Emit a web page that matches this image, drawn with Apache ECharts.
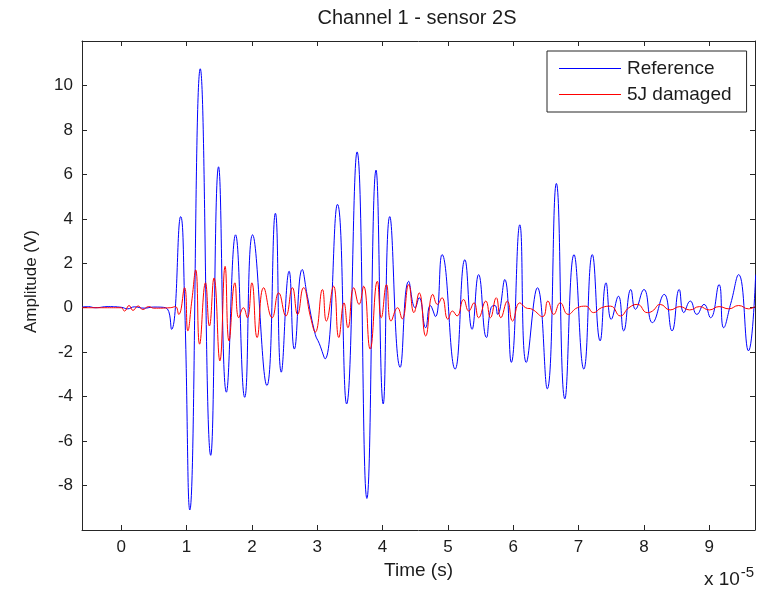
<!DOCTYPE html>
<html>
<head>
<meta charset="utf-8">
<script src="https://cdn.jsdelivr.net/npm/echarts@6/dist/echarts.min.js"></script>
<style>
  html, body { margin: 0; padding: 0; background: #fff; }
  #chart { width: 760px; height: 590px; }
</style>
</head>
<body>
<div id="chart"></div>
<script>
// Time axis in units of 1e-5 s, amplitude in volts
const timeTicks = [0, 1, 2, 3, 4, 5, 6, 7, 8, 9];

// Reference signal (peaks and troughs of the wave)
const refTime = [-0.6, -0.5, -0.4, -0.2, 0.0, 0.1, 0.2, 0.35, 0.5, 0.68,
  0.77, 0.91, 0.97, 1.05, 1.21, 1.37, 1.49, 1.61, 1.75, 1.89,
  2.01, 2.23, 2.36, 2.45, 2.57, 2.65, 2.77, 2.85, 2.97, 3.03,
  3.12, 3.31, 3.45, 3.61, 3.76, 3.90, 4.01, 4.11, 4.27, 4.40,
  4.50, 4.56, 4.66, 4.73, 4.81, 4.91, 5.11, 5.26, 5.37, 5.47,
  5.59, 5.66, 5.72, 5.76, 5.87, 5.97, 6.10, 6.20, 6.37, 6.52,
  6.66, 6.79, 6.93, 7.08, 7.21, 7.33, 7.42, 7.50, 7.61, 7.69,
  7.80, 7.87, 8.00, 8.13, 8.31, 8.43, 8.54, 8.61, 8.71, 8.81,
  8.92, 9.02, 9.15, 9.22, 9.33, 9.45, 9.60, 9.71];
const refAmp = [0.03, 0.05, 0.0, 0.05, 0.02, -0.05, 0.04, -0.02, 0.03, 0.0,
  -0.97, 4.1, 0.3, -9.1, 10.75, -6.64, 6.34, -3.8, 3.28, -4.03,
  3.28, -3.5, 4.25, -2.9, 1.64, -1.86, 1.72, 0.5, -1.2, -1.6,
  -2.3, 4.65, -4.33, 7.01, -8.58, 6.19, -4.33, 4.1, -2.68, 1.19,
  0.0, 0.45, -0.9, 0.1, -0.4, 2.39, -2.76, 2.16, -0.97, 1.49,
  -1.34, 0.0, 0.1, -0.3, 1.27, -2.46, 3.73, -2.46, 0.9, -3.65,
  5.59, -4.1, 2.39, -2.76, 2.39, -1.49, 1.12, -0.52, 0.52, -1.04,
  0.82, -0.07, 0.82, -0.67, 0.6, -1.04, 0.82, -0.22, 0.3, -0.3,
  0.15, -0.45, 1.04, -0.9, 0.2, 1.49, -1.94, 1.49];

// 5J damaged signal
const dmgTime = [-0.6, -0.3, 0.0, 0.05, 0.12, 0.18, 0.26, 0.33, 0.42, 0.5,
  0.75, 0.83, 0.88, 0.97, 1.02, 1.08, 1.14, 1.20, 1.29, 1.35,
  1.42, 1.51, 1.59, 1.65, 1.74, 1.80, 1.87, 1.93, 2.00, 2.08,
  2.18, 2.31, 2.41, 2.52, 2.62, 2.70, 2.79, 2.90, 2.97, 3.08,
  3.14, 3.25, 3.33, 3.41, 3.47, 3.56, 3.64, 3.71, 3.81, 3.92,
  3.98, 4.06, 4.13, 4.23, 4.30, 4.40, 4.48, 4.56, 4.66, 4.77,
  4.84, 4.91, 5.00, 5.07, 5.14, 5.24, 5.32, 5.40, 5.47, 5.58,
  5.65, 5.74, 5.81, 5.91, 5.99, 6.10, 6.19, 6.29, 6.45, 6.53,
  6.62, 6.72, 6.84, 6.98, 7.11, 7.23, 7.35, 7.49, 7.64, 7.77,
  7.90, 8.05, 8.13, 8.25, 8.40, 8.55, 8.70, 8.85, 9.00, 9.15,
  9.30, 9.45, 9.60, 9.70];
const dmgAmp = [0.0, 0.0, 0.0, -0.15, 0.1, -0.12, 0.08, -0.08, 0.05, -0.02,
  0.0, 0.05, -0.3, 0.9, -1.04, 0.3, 1.7, -1.64, 1.12, -0.82,
  1.34, -2.39, 1.86, -1.49, 1.12, -0.45, 0.0, -0.45, 1.12, -1.34,
  0.9, -0.45, 0.67, -0.37, 0.9, -0.3, 0.9, -0.45, -1.1, 0.82,
  -0.6, 0.97, -1.34, 0.22, -0.9, 0.9, 0.15, 0.97, -1.86, 1.19,
  -0.45, 1.04, -0.6, 0.0, -0.5, 1.04, -0.22, 0.67, -1.27, 0.6,
  0.15, 0.45, -0.52, -0.15, -0.37, 0.37, -0.15, 0.22, -0.45, 0.3,
  -0.45, 0.45, -0.45, 0.3, -0.6, 0.22, 0.0, -0.07, -0.4, 0.3,
  -0.3, 0.22, -0.3, 0.0, 0.07, -0.22, 0.0, 0.07, -0.37, 0.0,
  0.15, -0.22, -0.15, 0.15, -0.1, 0.05, -0.1, 0.05, -0.1, 0.05,
  -0.05, 0.1, -0.05, 0.05];

const zip = (xs, ys) => xs.map((x, i) => [x, ys[i]]);

const FONT = '"Liberation Sans", Arial, sans-serif';
const INK = '#1c1c1c';
const AXIS_COLOR = '#262626';

const boxLine = { show: true, onZero: false, lineStyle: { color: AXIS_COLOR, width: 1 } };
const inTick = { show: true, inside: true, length: 5, lineStyle: { color: AXIS_COLOR } };

const chart = echarts.init(document.getElementById('chart'), null, { renderer: 'canvas' });

chart.setOption({
  backgroundColor: '#ffffff',
  animation: false,
  textStyle: { fontFamily: FONT },
  grid: { left: 82, right: 5, top: 41, bottom: 60, containLabel: false },
  graphic: [
    {
      type: 'text', x: 417, y: 18,
      style: { text: 'Channel 1 - sensor 2S', font: '20px ' + FONT, fill: INK, align: 'center', verticalAlign: 'middle' }
    },
    {
      type: 'text', x: 729, y: 580,
      style: {
        text: '{b|x 10}{s|-5}', fill: INK, align: 'center', verticalAlign: 'middle',
        rich: {
          b: { fontSize: 19, fontFamily: FONT, color: INK },
          s: { fontSize: 15, fontFamily: FONT, color: INK, verticalAlign: 'bottom', padding: [0, 0, 15, 1] }
        }
      }
    }
  ],
  legend: {
    orient: 'vertical',
    left: 547, top: 51,
    padding: [8, 15, 8, 12],
    itemGap: 7,
    icon: 'rect',
    itemWidth: 62, itemHeight: 1,
    backgroundColor: '#ffffff',
    borderColor: AXIS_COLOR, borderWidth: 1, borderRadius: 0,
    textStyle: { fontSize: 19, fontFamily: FONT, color: INK, padding: [0, 0, 0, 1] },
    data: ['Reference', '5J damaged']
  },
  xAxis: [
    {
      type: 'value', min: -0.6, max: 9.7, position: 'bottom',
      name: 'Time (s)', nameLocation: 'middle', nameGap: 31,
      nameTextStyle: { fontSize: 19, fontFamily: FONT, color: INK },
      axisLine: boxLine,
      axisTick: Object.assign({ customValues: timeTicks }, inTick),
      axisLabel: { show: true, customValues: timeTicks, margin: 9, fontSize: 17, fontFamily: FONT, color: INK },
      splitLine: { show: false }
    },
    {
      type: 'value', min: -0.6, max: 9.7, position: 'top',
      axisLine: boxLine,
      axisTick: Object.assign({ customValues: timeTicks }, inTick),
      axisLabel: { show: false },
      splitLine: { show: false }
    }
  ],
  yAxis: [
    {
      type: 'value', min: -10, max: 12, interval: 2, position: 'left',
      name: 'Amplitude (V)', nameLocation: 'middle', nameGap: 42,
      nameTextStyle: { fontSize: 17, fontFamily: FONT, color: INK, padding: [0, 0, 0, 8] },
      axisLine: boxLine,
      axisTick: inTick,
      axisLabel: { show: true, margin: 9, fontSize: 17, fontFamily: FONT, color: INK, showMinLabel: false, showMaxLabel: false },
      splitLine: { show: false }
    },
    {
      type: 'value', min: -10, max: 12, interval: 2, position: 'right',
      axisLine: boxLine,
      axisTick: inTick,
      axisLabel: { show: false },
      splitLine: { show: false }
    }
  ],
  series: [
    {
      name: 'Reference', type: 'line', xAxisIndex: 0, yAxisIndex: 0,
      data: zip(refTime, refAmp),
      showSymbol: false, symbol: 'none', smooth: 0.5,
      lineStyle: { color: '#0000ff', width: 1 },
      itemStyle: { color: '#0000ff' },
      clip: true
    },
    {
      name: '5J damaged', type: 'line', xAxisIndex: 0, yAxisIndex: 0,
      data: zip(dmgTime, dmgAmp),
      showSymbol: false, symbol: 'none', smooth: 0.5,
      lineStyle: { color: '#ff0000', width: 1 },
      itemStyle: { color: '#ff0000' },
      clip: true
    }
  ]
});
</script>
</body>
</html>
